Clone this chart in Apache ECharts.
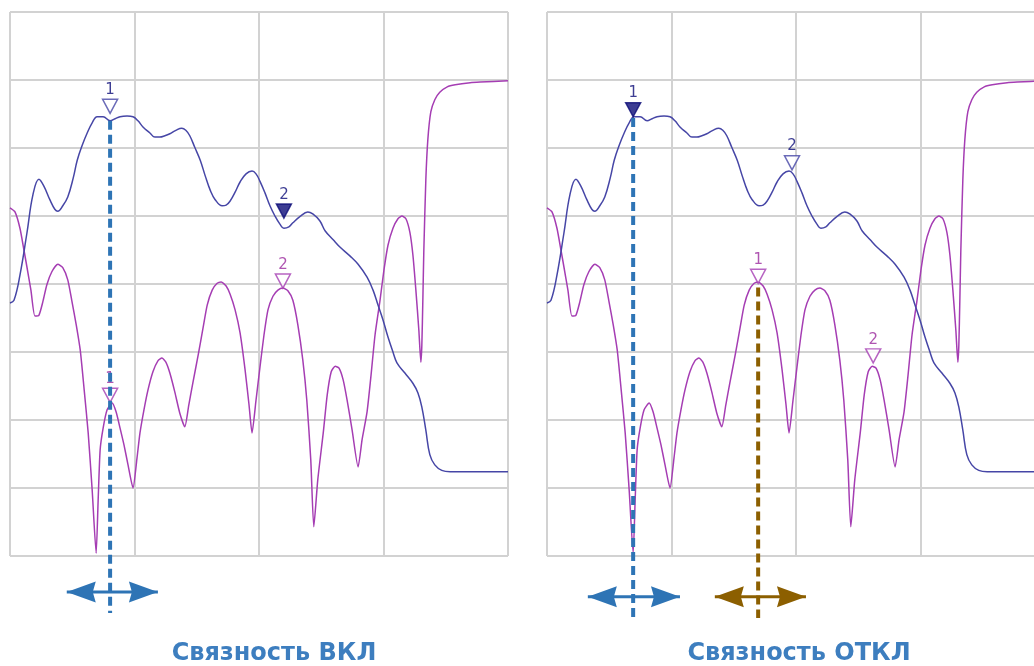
<!DOCTYPE html>
<html><head><meta charset="utf-8">
<script src="https://cdn.jsdelivr.net/npm/echarts@6/dist/echarts.min.js"></script>
<style>html,body{margin:0;padding:0;background:#fff}#c{width:1034px;height:666px}</style>
</head><body><div id="c"></div>
<script>
// Trace 1 (blue, smooth) – x in % of span, y in dB (8 divisions of 10 dB)
const blueX = [0,0.8,2.0,3.4,4.6,5.8,6.8,8.0,9.0,9.6,10.6,11.6,12.7,13.5,14.5,15.5,16.5,17.5,18.7,20.1,21.1,22.1,23.5,24.7,25.7,26.7,28.1,29.1,30.1,31.1,32.1,33.3,34.5,35.3,36.1,37.1,38.2,39.2,40.2,41.2,42.6,43.4,44.2,45.2,46.2,47.4,48.6,49.4,50.2,51.2,52.2,53.2,54.2,55.0,56.0,56.8,58.2,59.8,60.8,62.2,63.3,64.9,66.3,68.3,69.9,71.7,72.9,73.9,74.9,75.9,76.9,77.7,79.3,80.9,81.9,82.7,83.5,84.3,85.3,86.7,88.4,94.4,100];
const blueY = [-42.8,-42.4,-38.7,-32.5,-26.9,-24.6,-25.6,-27.6,-29.0,-29.3,-28.5,-27.2,-24.4,-21.8,-19.6,-17.8,-16.3,-15.4,-15.4,-16.0,-15.7,-15.4,-15.3,-15.4,-16.0,-16.9,-17.8,-18.4,-18.4,-18.2,-17.9,-17.4,-17.1,-17.4,-18.2,-19.9,-21.8,-24.1,-26.2,-27.6,-28.5,-28.4,-27.8,-26.5,-25.0,-23.8,-23.4,-23.8,-24.9,-26.6,-28.5,-30.0,-31.2,-31.8,-31.6,-31.0,-30.1,-29.4,-29.7,-30.7,-32.2,-33.5,-34.6,-35.9,-37.1,-39.0,-40.9,-43.1,-45.3,-47.8,-50.0,-51.6,-53.1,-54.6,-56.0,-58.1,-61.5,-65.1,-66.6,-67.4,-67.6,-67.6,-67.6];
// Trace 2 (magenta)
const magentaX = [0,1.0,2.0,2.8,3.4,4.2,5.0,5.8,6.6,7.4,8.4,9.6,10.6,11.6,12.4,13.3,14.1,14.9,15.7,16.5,17.3,17.7,18.1,18.7,19.5,20.5,21.3,22.1,22.9,23.7,24.7,25.5,26.1,26.9,27.7,28.7,29.7,30.5,31.3,32.1,33.1,34.1,35.1,35.9,36.7,37.8,38.8,39.6,40.6,41.6,42.4,43.4,44.2,45.2,46.2,47.2,48.0,48.6,49.4,50.2,51.0,51.8,52.8,53.8,54.8,55.8,56.8,57.8,58.8,59.6,60.4,61.0,61.8,62.9,63.7,64.5,65.3,66.1,66.9,67.7,68.7,69.9,70.7,71.7,72.5,73.3,74.3,75.1,75.9,76.9,77.9,78.7,79.5,80.3,80.9,81.5,82.1,82.5,82.7,82.9,83.1,83.5,83.9,84.5,85.3,86.3,87.8,89.4,92.4,94.4,100];
const magentaY = [-28.8,-29.4,-31.8,-35.0,-37.5,-40.9,-44.7,-44.6,-42.6,-40.1,-38.2,-37.1,-37.6,-39.4,-42.4,-46.0,-49.7,-55.6,-61.9,-70.3,-79.6,-71.8,-64.4,-61.2,-58.5,-57.5,-58.8,-61.2,-63.7,-66.6,-70.0,-65.6,-61.9,-58.5,-55.6,-52.9,-51.3,-50.9,-51.5,-53.1,-55.9,-59.0,-61.0,-57.8,-54.6,-50.4,-46.3,-43.1,-40.9,-39.9,-39.7,-40.3,-41.5,-43.8,-47.2,-52.6,-57.8,-61.9,-57.1,-52.2,-47.5,-43.8,-41.8,-40.9,-40.6,-41.0,-42.4,-46.0,-51.2,-57.1,-65.9,-75.7,-68.8,-61.9,-56.3,-52.9,-52.1,-52.4,-54.1,-57.1,-61.5,-66.9,-62.9,-58.8,-53.4,-47.5,-42.4,-37.9,-34.3,-31.8,-30.4,-30.0,-30.4,-32.4,-35.7,-40.9,-46.8,-51.5,-49.0,-42.4,-35.0,-24.7,-18.8,-14.7,-12.9,-11.8,-11.0,-10.7,-10.4,-10.3,-10.1];

// Markers: [panel, label, x, y, active(filled)]
const blueMarkers = [[0,'1',20.1,-14.9,false],[0,'2',55.0,-30.3,true],[1,'1',17.3,-15.4,true],[1,'2',49.2,-23.2,false]];
const magentaMarkers = [[0,'1',20.1,-57.4,false],[0,'2',54.8,-40.6,false],[1,'1',42.4,-39.9,false],[1,'2',65.5,-51.6,false]];
// Coupled cursors: [panel, x, yTop, yBottom, arrowY, arrowFrom, arrowTo, colour]
const cursors = [
  [0,20.1,-16.0,-88.4,-85.3,11.4,29.7,'#2e74b5'],
  [1,17.3,-15.6,-89.0,-86.0,8.2,26.7,'#2e74b5'],
  [1,42.4,-40.5,-89.1,-86.0,33.7,52.0,'#8c5f00']
];
const panelTitles = ['Связность ВКЛ','Связность ОТКЛ'];

const BLUE='#4646a6', MAG='#a53db3', BLUE_DARK='#0c0c78', MAG_DARK='#9b2a9e';
const FONT='DejaVu Sans';
const zip=(a,b)=>a.map((v,i)=>[v,b[i]]);
const tri='path://M0,0 L16,0 L8,14 Z';
const headL='path://M0,10 L29,0 L26,10 L29,20 Z';
const headR='path://M29,10 L0,0 L3,10 L0,20 Z';

const grids=[{left:10,top:12,width:498,height:544,outerBoundsMode:'none'},{left:547,top:12,width:498,height:544,outerBoundsMode:'none'}];
const gl={color:'#d2d2d2',width:2};
const xAxes=grids.map((g,i)=>({type:'value',gridIndex:i,min:0,max:100,interval:25,axisLine:{show:false},axisTick:{show:false},axisLabel:{show:false},splitLine:{show:true,showMinLine:true,showMaxLine:true,lineStyle:gl}}));
const yAxes=grids.map((g,i)=>({type:'value',gridIndex:i,min:-80,max:0,interval:10,axisLine:{show:false},axisTick:{show:false},axisLabel:{show:false},splitLine:{show:true,showMinLine:true,showMaxLine:true,lineStyle:gl}}));

const series=[];
[0,1].forEach(p=>{
  series.push({type:'line',xAxisIndex:p,yAxisIndex:p,data:zip(magentaX,magentaY),showSymbol:false,smooth:0.2,lineStyle:{color:MAG,width:1.5},z:2,silent:true});
  series.push({type:'line',xAxisIndex:p,yAxisIndex:p,data:zip(blueX,blueY),showSymbol:false,smooth:0.4,lineStyle:{color:BLUE,width:1.5},z:3,silent:true});
});
function markerSeries(list,col,dark){
  [0,1].forEach(p=>{
    series.push({type:'scatter',xAxisIndex:p,yAxisIndex:p,clip:false,z:5,silent:true,
      symbol:tri,symbolSize:[15,14],symbolOffset:[0,-7],
      data:list.filter(m=>m[0]===p).map(m=>({name:m[1],value:[m[2],m[3]],
        itemStyle:{color:m[4]?dark:'#ffffff',borderColor:m[4]?dark:col,borderWidth:1.5}})),
      label:{show:true,position:'top',distance:1,formatter:'{b}',color:dark,fontFamily:FONT,fontSize:15}
    });
  });
}
markerSeries(blueMarkers,BLUE,BLUE_DARK);
markerSeries(magentaMarkers,MAG,MAG_DARK);
cursors.forEach(c=>{
  const [p,x,yt,yb,ay,af,at,col]=c;
  series.push({type:'line',xAxisIndex:p,yAxisIndex:p,clip:false,z:8,silent:true,showSymbol:false,
    data:[[x,yt],[x,yb]],lineStyle:{color:col,width:4,type:[9,5]}});
  series.push({type:'line',xAxisIndex:p,yAxisIndex:p,clip:false,z:9,silent:true,showSymbol:true,
    data:[{value:[af,ay],symbol:headL,symbolSize:[29,21],symbolOffset:[14.5,0]},
          {value:[at,ay],symbol:headR,symbolSize:[29,21],symbolOffset:[-14.5,0]}],
    itemStyle:{color:col},lineStyle:{color:col,width:3}});
});

const chart=echarts.init(document.getElementById('c'),null,{renderer:'canvas'});
chart.setOption({
  animation:false,
  title:[
    {text:panelTitles[0],left:269,top:637,textAlign:'center',textStyle:{fontFamily:FONT,fontWeight:'bold',fontSize:24,color:'#3d7ebf'}},
    {text:panelTitles[1],left:794,top:637,textAlign:'center',textStyle:{fontFamily:FONT,fontWeight:'bold',fontSize:24,color:'#3d7ebf'}}
  ],
  grid:grids,xAxis:xAxes,yAxis:yAxes,series:series
});
</script></body></html>
